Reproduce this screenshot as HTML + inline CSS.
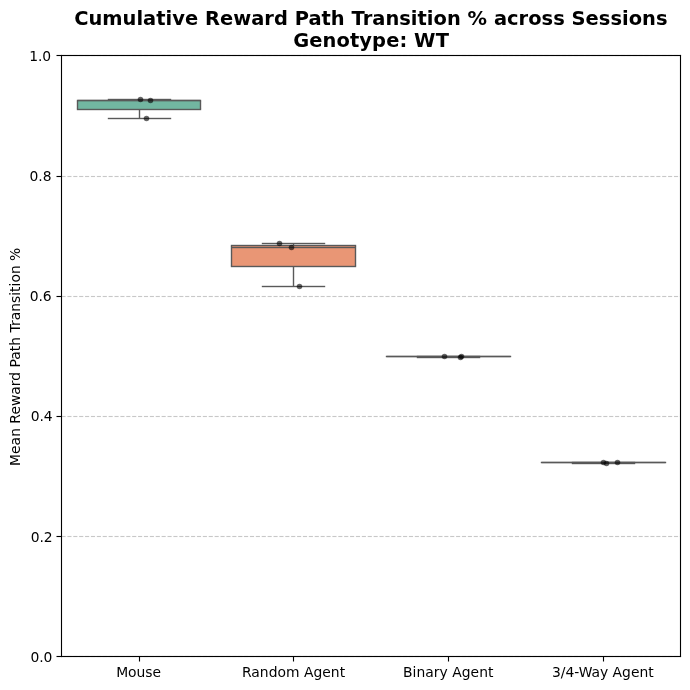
<!DOCTYPE html>
<html><head><meta charset="utf-8"><title>Cumulative Reward Path Transition % across Sessions</title>
<style>
html,body{margin:0;padding:0;background:#fff;}
body{width:690px;height:690px;overflow:hidden;}
svg{display:block;will-change:transform;}
text{font-family:"DejaVu Sans","Liberation Sans",sans-serif;fill:#000;}
</style></head>
<body>
<svg width="690" height="690" viewBox="0 0 690 690">
<rect x="0" y="0" width="690" height="690" fill="#fff"/>
<path d="M61.5 655.5H680.5" stroke="#b0b0b0" stroke-opacity="0.0389" stroke-width="1" stroke-dasharray="4.111,1.778" fill="none"/>
<path d="M61.5 656.5H680.5" stroke="#b0b0b0" stroke-opacity="0.7000" stroke-width="1" stroke-dasharray="4.111,1.778" fill="none"/>
<path d="M61.5 657.5H680.5" stroke="#b0b0b0" stroke-opacity="0.0389" stroke-width="1" stroke-dasharray="4.111,1.778" fill="none"/>
<path d="M61.5 535.5H680.5" stroke="#b0b0b0" stroke-opacity="0.0389" stroke-width="1" stroke-dasharray="4.111,1.778" fill="none"/>
<path d="M61.5 536.5H680.5" stroke="#b0b0b0" stroke-opacity="0.7000" stroke-width="1" stroke-dasharray="4.111,1.778" fill="none"/>
<path d="M61.5 537.5H680.5" stroke="#b0b0b0" stroke-opacity="0.0389" stroke-width="1" stroke-dasharray="4.111,1.778" fill="none"/>
<path d="M61.5 415.5H680.5" stroke="#b0b0b0" stroke-opacity="0.0389" stroke-width="1" stroke-dasharray="4.111,1.778" fill="none"/>
<path d="M61.5 416.5H680.5" stroke="#b0b0b0" stroke-opacity="0.7000" stroke-width="1" stroke-dasharray="4.111,1.778" fill="none"/>
<path d="M61.5 417.5H680.5" stroke="#b0b0b0" stroke-opacity="0.0389" stroke-width="1" stroke-dasharray="4.111,1.778" fill="none"/>
<path d="M61.5 295.5H680.5" stroke="#b0b0b0" stroke-opacity="0.0389" stroke-width="1" stroke-dasharray="4.111,1.778" fill="none"/>
<path d="M61.5 296.5H680.5" stroke="#b0b0b0" stroke-opacity="0.7000" stroke-width="1" stroke-dasharray="4.111,1.778" fill="none"/>
<path d="M61.5 297.5H680.5" stroke="#b0b0b0" stroke-opacity="0.0389" stroke-width="1" stroke-dasharray="4.111,1.778" fill="none"/>
<path d="M61.5 175.5H680.5" stroke="#b0b0b0" stroke-opacity="0.0389" stroke-width="1" stroke-dasharray="4.111,1.778" fill="none"/>
<path d="M61.5 176.5H680.5" stroke="#b0b0b0" stroke-opacity="0.7000" stroke-width="1" stroke-dasharray="4.111,1.778" fill="none"/>
<path d="M61.5 177.5H680.5" stroke="#b0b0b0" stroke-opacity="0.0389" stroke-width="1" stroke-dasharray="4.111,1.778" fill="none"/>
<path d="M61.5 54.5H680.5" stroke="#b0b0b0" stroke-opacity="0.0389" stroke-width="1" stroke-dasharray="4.111,1.778" fill="none"/>
<path d="M61.5 55.5H680.5" stroke="#b0b0b0" stroke-opacity="0.7000" stroke-width="1" stroke-dasharray="4.111,1.778" fill="none"/>
<path d="M61.5 56.5H680.5" stroke="#b0b0b0" stroke-opacity="0.0389" stroke-width="1" stroke-dasharray="4.111,1.778" fill="none"/>
<rect x="77.5" y="101" width="123" height="8" fill="#72b6a1"/>
<rect x="76.806" y="99" width="124.389" height="1" fill="#595959" fill-opacity="0.1944"/>
<rect x="76.806" y="100" width="124.389" height="1" fill="#595959"/>
<rect x="76.806" y="101" width="124.389" height="1" fill="#595959" fill-opacity="0.1944"/>
<rect x="76.806" y="108" width="124.389" height="1" fill="#595959" fill-opacity="0.1944"/>
<rect x="76.806" y="109" width="124.389" height="1" fill="#595959"/>
<rect x="76.806" y="110" width="124.389" height="1" fill="#595959" fill-opacity="0.1944"/>
<rect x="76.806" y="101" width="1.389" height="8" fill="#595959"/>
<rect x="199.806" y="101" width="1.389" height="8" fill="#595959"/>
<rect x="231.5" y="246" width="124" height="20" fill="#e99675"/>
<rect x="230.806" y="244" width="125.389" height="1" fill="#595959" fill-opacity="0.1944"/>
<rect x="230.806" y="245" width="125.389" height="1" fill="#595959"/>
<rect x="230.806" y="246" width="125.389" height="1" fill="#595959" fill-opacity="0.1944"/>
<rect x="230.806" y="265" width="125.389" height="1" fill="#595959" fill-opacity="0.1944"/>
<rect x="230.806" y="266" width="125.389" height="1" fill="#595959"/>
<rect x="230.806" y="267" width="125.389" height="1" fill="#595959" fill-opacity="0.1944"/>
<rect x="230.806" y="246" width="1.389" height="20" fill="#595959"/>
<rect x="354.806" y="246" width="1.389" height="20" fill="#595959"/>
<rect x="385.806" y="355" width="125.389" height="1" fill="#595959" fill-opacity="0.1944"/>
<rect x="385.806" y="356" width="125.389" height="1" fill="#595959"/>
<rect x="385.806" y="357" width="125.389" height="1" fill="#595959" fill-opacity="0.1944"/>
<rect x="540.806" y="461" width="125.389" height="1" fill="#595959" fill-opacity="0.1944"/>
<rect x="540.806" y="462" width="125.389" height="1" fill="#595959"/>
<rect x="540.806" y="463" width="125.389" height="1" fill="#595959" fill-opacity="0.1944"/>
<rect x="138.806" y="109" width="1.389" height="1" fill="#595959" fill-opacity="0.5000"/>
<rect x="138.806" y="110" width="1.389" height="8" fill="#595959"/>
<rect x="138.806" y="118" width="1.389" height="1" fill="#595959" fill-opacity="0.5000"/>
<rect x="138.806" y="99" width="1.389" height="1" fill="#595959" fill-opacity="0.5000"/>
<rect x="138.806" y="100" width="1.389" height="1" fill="#595959" fill-opacity="0.5000"/>
<rect x="107.806" y="117" width="63.389" height="1" fill="#595959" fill-opacity="0.1944"/>
<rect x="107.806" y="118" width="63.389" height="1" fill="#595959"/>
<rect x="107.806" y="119" width="63.389" height="1" fill="#595959" fill-opacity="0.1944"/>
<rect x="107.806" y="98" width="63.389" height="1" fill="#595959" fill-opacity="0.1944"/>
<rect x="107.806" y="99" width="63.389" height="1" fill="#595959"/>
<rect x="107.806" y="100" width="63.389" height="1" fill="#595959" fill-opacity="0.1944"/>
<rect x="292.806" y="266" width="1.389" height="1" fill="#595959" fill-opacity="0.5000"/>
<rect x="292.806" y="267" width="1.389" height="19" fill="#595959"/>
<rect x="292.806" y="286" width="1.389" height="1" fill="#595959" fill-opacity="0.5000"/>
<rect x="292.806" y="243" width="1.389" height="1" fill="#595959" fill-opacity="0.5000"/>
<rect x="292.806" y="244" width="1.389" height="1" fill="#595959"/>
<rect x="292.806" y="245" width="1.389" height="1" fill="#595959" fill-opacity="0.5000"/>
<rect x="261.806" y="285" width="63.389" height="1" fill="#595959" fill-opacity="0.1944"/>
<rect x="261.806" y="286" width="63.389" height="1" fill="#595959"/>
<rect x="261.806" y="287" width="63.389" height="1" fill="#595959" fill-opacity="0.1944"/>
<rect x="261.806" y="242" width="63.389" height="1" fill="#595959" fill-opacity="0.1944"/>
<rect x="261.806" y="243" width="63.389" height="1" fill="#595959"/>
<rect x="261.806" y="244" width="63.389" height="1" fill="#595959" fill-opacity="0.1944"/>
<rect x="447.806" y="356" width="1.389" height="1" fill="#595959" fill-opacity="0.5000"/>
<rect x="447.806" y="357" width="1.389" height="1" fill="#595959" fill-opacity="0.5000"/>
<rect x="448.5" y="355" width="0" height="1" fill="#595959" fill-opacity="0.1944"/>
<rect x="448.5" y="356" width="0" height="1" fill="#595959"/>
<rect x="448.5" y="357" width="0" height="1" fill="#595959" fill-opacity="0.1944"/>
<rect x="416.806" y="356" width="63.389" height="1" fill="#595959" fill-opacity="0.1944"/>
<rect x="416.806" y="357" width="63.389" height="1" fill="#595959"/>
<rect x="416.806" y="358" width="63.389" height="1" fill="#595959" fill-opacity="0.1944"/>
<rect x="416.806" y="355" width="63.389" height="1" fill="#595959" fill-opacity="0.1944"/>
<rect x="416.806" y="356" width="63.389" height="1" fill="#595959"/>
<rect x="416.806" y="357" width="63.389" height="1" fill="#595959" fill-opacity="0.1944"/>
<rect x="602.806" y="462" width="1.389" height="1" fill="#595959" fill-opacity="0.5000"/>
<rect x="602.806" y="463" width="1.389" height="1" fill="#595959" fill-opacity="0.5000"/>
<rect x="603.5" y="461" width="0" height="1" fill="#595959" fill-opacity="0.1944"/>
<rect x="603.5" y="462" width="0" height="1" fill="#595959"/>
<rect x="603.5" y="463" width="0" height="1" fill="#595959" fill-opacity="0.1944"/>
<rect x="571.806" y="462" width="63.389" height="1" fill="#595959" fill-opacity="0.1944"/>
<rect x="571.806" y="463" width="63.389" height="1" fill="#595959"/>
<rect x="571.806" y="464" width="63.389" height="1" fill="#595959" fill-opacity="0.1944"/>
<rect x="571.806" y="461" width="63.389" height="1" fill="#595959" fill-opacity="0.1944"/>
<rect x="571.806" y="462" width="63.389" height="1" fill="#595959"/>
<rect x="571.806" y="463" width="63.389" height="1" fill="#595959" fill-opacity="0.1944"/>
<rect x="77.5" y="99" width="123" height="1" fill="#595959" fill-opacity="0.1944"/>
<rect x="77.5" y="100" width="123" height="1" fill="#595959"/>
<rect x="77.5" y="101" width="123" height="1" fill="#595959" fill-opacity="0.1944"/>
<rect x="231.5" y="246" width="124" height="1" fill="#595959" fill-opacity="0.1944"/>
<rect x="231.5" y="247" width="124" height="1" fill="#595959"/>
<rect x="231.5" y="248" width="124" height="1" fill="#595959" fill-opacity="0.1944"/>
<rect x="386.5" y="355" width="124" height="1" fill="#595959" fill-opacity="0.1944"/>
<rect x="386.5" y="356" width="124" height="1" fill="#595959"/>
<rect x="386.5" y="357" width="124" height="1" fill="#595959" fill-opacity="0.1944"/>
<rect x="541.5" y="461" width="124" height="1" fill="#595959" fill-opacity="0.1944"/>
<rect x="541.5" y="462" width="124" height="1" fill="#595959"/>
<rect x="541.5" y="463" width="124" height="1" fill="#595959" fill-opacity="0.1944"/>
<circle cx="140.5" cy="99.5" r="2.778" fill="#000000" fill-opacity="0.6"/>
<circle cx="150.5" cy="100.5" r="2.778" fill="#000000" fill-opacity="0.6"/>
<circle cx="146.5" cy="118.5" r="2.778" fill="#000000" fill-opacity="0.6"/>
<circle cx="279.5" cy="243.5" r="2.778" fill="#000000" fill-opacity="0.6"/>
<circle cx="291.5" cy="247.5" r="2.778" fill="#000000" fill-opacity="0.6"/>
<circle cx="299.5" cy="286.5" r="2.778" fill="#000000" fill-opacity="0.6"/>
<circle cx="444.5" cy="356.5" r="2.778" fill="#000000" fill-opacity="0.6"/>
<circle cx="461.5" cy="356.5" r="2.778" fill="#000000" fill-opacity="0.6"/>
<circle cx="460.5" cy="357.5" r="2.778" fill="#000000" fill-opacity="0.6"/>
<circle cx="603.5" cy="462.5" r="2.778" fill="#000000" fill-opacity="0.6"/>
<circle cx="606.5" cy="463.5" r="2.778" fill="#000000" fill-opacity="0.6"/>
<circle cx="617.5" cy="462.5" r="2.778" fill="#000000" fill-opacity="0.6"/>
<rect x="138.944" y="656" width="1.111" height="1" fill="#000000" fill-opacity="0.5000"/>
<rect x="138.944" y="657" width="1.111" height="4" fill="#000000"/>
<rect x="138.944" y="661" width="1.111" height="1" fill="#000000" fill-opacity="0.5000"/>
<rect x="292.944" y="656" width="1.111" height="1" fill="#000000" fill-opacity="0.5000"/>
<rect x="292.944" y="657" width="1.111" height="4" fill="#000000"/>
<rect x="292.944" y="661" width="1.111" height="1" fill="#000000" fill-opacity="0.5000"/>
<rect x="447.944" y="656" width="1.111" height="1" fill="#000000" fill-opacity="0.5000"/>
<rect x="447.944" y="657" width="1.111" height="4" fill="#000000"/>
<rect x="447.944" y="661" width="1.111" height="1" fill="#000000" fill-opacity="0.5000"/>
<rect x="602.944" y="656" width="1.111" height="1" fill="#000000" fill-opacity="0.5000"/>
<rect x="602.944" y="657" width="1.111" height="4" fill="#000000"/>
<rect x="602.944" y="661" width="1.111" height="1" fill="#000000" fill-opacity="0.5000"/>
<rect x="56.5" y="655" width="5" height="1" fill="#000000" fill-opacity="0.0556"/>
<rect x="56.5" y="656" width="5" height="1" fill="#000000"/>
<rect x="56.5" y="657" width="5" height="1" fill="#000000" fill-opacity="0.0556"/>
<rect x="56.5" y="535" width="5" height="1" fill="#000000" fill-opacity="0.0556"/>
<rect x="56.5" y="536" width="5" height="1" fill="#000000"/>
<rect x="56.5" y="537" width="5" height="1" fill="#000000" fill-opacity="0.0556"/>
<rect x="56.5" y="415" width="5" height="1" fill="#000000" fill-opacity="0.0556"/>
<rect x="56.5" y="416" width="5" height="1" fill="#000000"/>
<rect x="56.5" y="417" width="5" height="1" fill="#000000" fill-opacity="0.0556"/>
<rect x="56.5" y="295" width="5" height="1" fill="#000000" fill-opacity="0.0556"/>
<rect x="56.5" y="296" width="5" height="1" fill="#000000"/>
<rect x="56.5" y="297" width="5" height="1" fill="#000000" fill-opacity="0.0556"/>
<rect x="56.5" y="175" width="5" height="1" fill="#000000" fill-opacity="0.0556"/>
<rect x="56.5" y="176" width="5" height="1" fill="#000000"/>
<rect x="56.5" y="177" width="5" height="1" fill="#000000" fill-opacity="0.0556"/>
<rect x="56.5" y="54" width="5" height="1" fill="#000000" fill-opacity="0.0556"/>
<rect x="56.5" y="55" width="5" height="1" fill="#000000"/>
<rect x="56.5" y="56" width="5" height="1" fill="#000000" fill-opacity="0.0556"/>
<rect x="60.944" y="54" width="1.111" height="1" fill="#000000" fill-opacity="0.0556"/>
<rect x="60.944" y="55" width="1.111" height="602" fill="#000000"/>
<rect x="60.944" y="657" width="1.111" height="1" fill="#000000" fill-opacity="0.0556"/>
<rect x="679.944" y="54" width="1.111" height="1" fill="#000000" fill-opacity="0.0556"/>
<rect x="679.944" y="55" width="1.111" height="602" fill="#000000"/>
<rect x="679.944" y="657" width="1.111" height="1" fill="#000000" fill-opacity="0.0556"/>
<rect x="60.944" y="655" width="620.111" height="1" fill="#000000" fill-opacity="0.0556"/>
<rect x="60.944" y="656" width="620.111" height="1" fill="#000000"/>
<rect x="60.944" y="657" width="620.111" height="1" fill="#000000" fill-opacity="0.0556"/>
<rect x="60.944" y="54" width="620.111" height="1" fill="#000000" fill-opacity="0.0556"/>
<rect x="60.944" y="55" width="620.111" height="1" fill="#000000"/>
<rect x="60.944" y="56" width="620.111" height="1" fill="#000000" fill-opacity="0.0556"/>
<text x="138.618" y="676.553" font-size="13.889" text-anchor="middle" textLength="44.875" lengthAdjust="spacing">Mouse</text>
<text x="293.549" y="676.553" font-size="13.889" text-anchor="middle" textLength="103.125" lengthAdjust="spacing">Random Agent</text>
<text x="448.229" y="676.553" font-size="13.889" text-anchor="middle" textLength="90.375" lengthAdjust="spacing">Binary Agent</text>
<text x="602.785" y="676.553" font-size="13.889" text-anchor="middle" textLength="101.75" lengthAdjust="spacing">3/4-Way Agent</text>
<text x="52.431" y="661.554" font-size="13.889" text-anchor="end" textLength="21.875" lengthAdjust="spacing">0.0</text>
<text x="52.556" y="542.366" font-size="13.889" text-anchor="end" textLength="21.875" lengthAdjust="spacing">0.2</text>
<text x="52.556" y="421.177" font-size="13.889" text-anchor="end" textLength="21.875" lengthAdjust="spacing">0.4</text>
<text x="51.681" y="300.988" font-size="13.889" text-anchor="end" textLength="22" lengthAdjust="spacing">0.6</text>
<text x="51.556" y="180.799" font-size="13.889" text-anchor="end" textLength="22" lengthAdjust="spacing">0.8</text>
<text x="51.181" y="60.61" font-size="13.889" text-anchor="end" textLength="22" lengthAdjust="spacing">1.0</text>
<text x="20.024" y="356.806" font-size="13.889" text-anchor="middle" textLength="218.25" lengthAdjust="spacing" transform="rotate(-90 20.024 356.806)">Mean Reward Path Transition %</text>
<text x="74.127" y="25.226" font-size="19.444" font-weight="bold" textLength="593.375" lengthAdjust="spacing">Cumulative Reward Path Transition % across Sessions</text>
<text x="293.299" y="47" font-size="19.444" font-weight="bold" textLength="155.625" lengthAdjust="spacing">Genotype: WT</text>
</svg>
</body></html>
